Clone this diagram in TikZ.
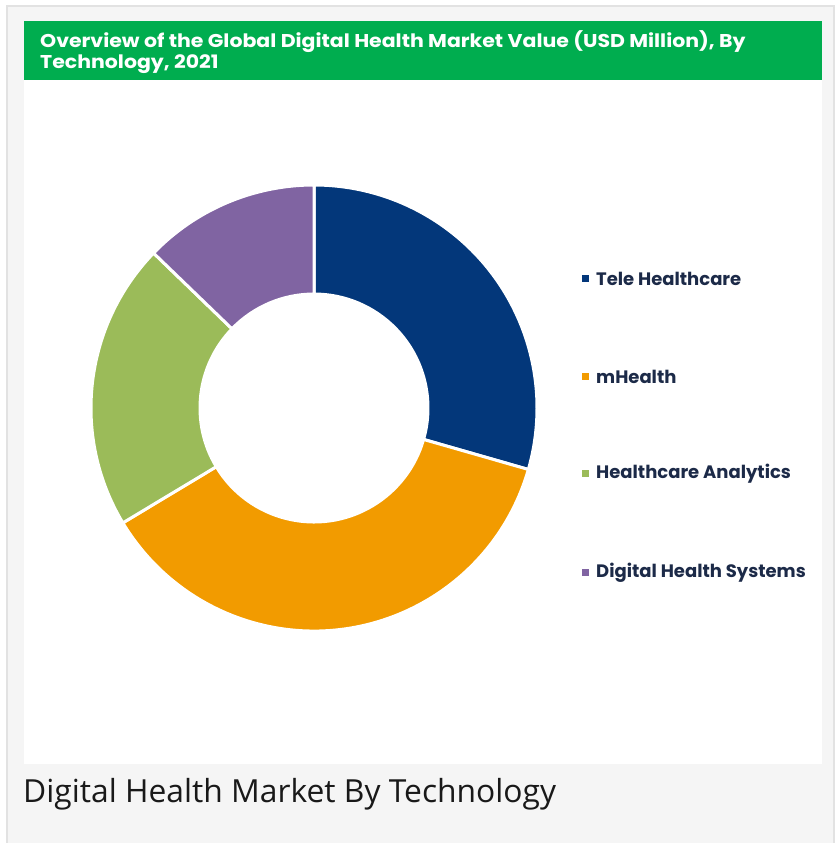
\documentclass[tikz,border=0pt]{standalone}
\usepackage{fontspec}
\usepackage{graphicx}
\setmainfont{Open Sans}
\newfontfamily\gothic{Poppins}
\definecolor{bggray}{HTML}{F5F5F5}
\definecolor{framegray}{HTML}{E2E2E2}
\definecolor{titlegreen}{HTML}{00AD4F}
\definecolor{tele}{HTML}{03377A}
\definecolor{mhealth}{HTML}{F29B00}
\definecolor{analytics}{HTML}{9BBB59}
\definecolor{dhs}{HTML}{8064A2}
\definecolor{legtext}{HTML}{1C2A48}
\newcommand{\widetitle}[1]{\scalebox{1.107}[1]{#1}}
\tikzset{
  x=1pt,y=1pt,
  slice/.style={draw=white, line width=3pt, line join=miter},
  legmark/.style={minimum size=7pt, inner sep=0pt, outer sep=0pt},
  legtxt/.style={anchor=west, inner sep=0pt, text=legtext, font=\gothic\bfseries\fontsize{18}{18}\selectfont},
  titletxt/.style={anchor=base west, inner sep=0pt, text=white, font=\gothic\bfseries\fontsize{18.5}{18.5}\selectfont},
}
\newcommand{\donutslice}[3]{%
  \fill[#1, slice] (#2:223) arc[start angle=#2, end angle=#3, radius=223]
    -- (#3:114) arc[start angle=#3, end angle=#2, radius=114] -- cycle;}
\begin{document}
\begin{tikzpicture}
\useasboundingbox (0,0) rectangle (836,-843);
\fill[white] (0,0) rectangle (836,-843);
\filldraw[fill=bggray, draw=framegray, line width=2pt] (7,-6) rectangle (834,-850);
\fill[white] (24,-80) rectangle (822,-764);
\fill[titlegreen] (24,-21) rectangle (822,-80);
\node[titletxt] (title1) at (40,-48) {\widetitle{Overview of the Global Digital Health Market Value (USD Million), By}};
\node[titletxt] (title2) at (40,-68) {\widetitle{Technology, 2021}};
\begin{scope}[shift={(314,-408)}]
  \donutslice{tele}{90}{-16}
  \donutslice{mhealth}{-16}{-149}
  \donutslice{analytics}{-149}{-224}
  \donutslice{dhs}{136}{90}
  \coordinate (center) at (0,0);
\end{scope}
\node[legmark, fill=tele] (m1) at (585,-278.5) {};
\node[legtxt] (l1) at (596,-278.5) {Tele Healthcare};
\node[legmark, fill=mhealth] (m2) at (585,-376.5) {};
\node[legtxt] (l2) at (596,-376.5) {mHealth};
\node[legmark, fill=analytics] (m3) at (585,-473.5) {};
\node[legtxt] (l3) at (596,-473.5) {Healthcare Analytics};
\node[legmark, fill=dhs] (m4) at (585,-572.5) {};
\node[legtxt] (l4) at (596,-572.5) {Digital Health Systems};
\node[anchor=base west, inner sep=0pt, text=black!90,
  font=\fontsize{31.8}{31.8}\selectfont] (caption) at (23,-802) {Digital Health Market By Technology};
\end{tikzpicture}
\end{document}
